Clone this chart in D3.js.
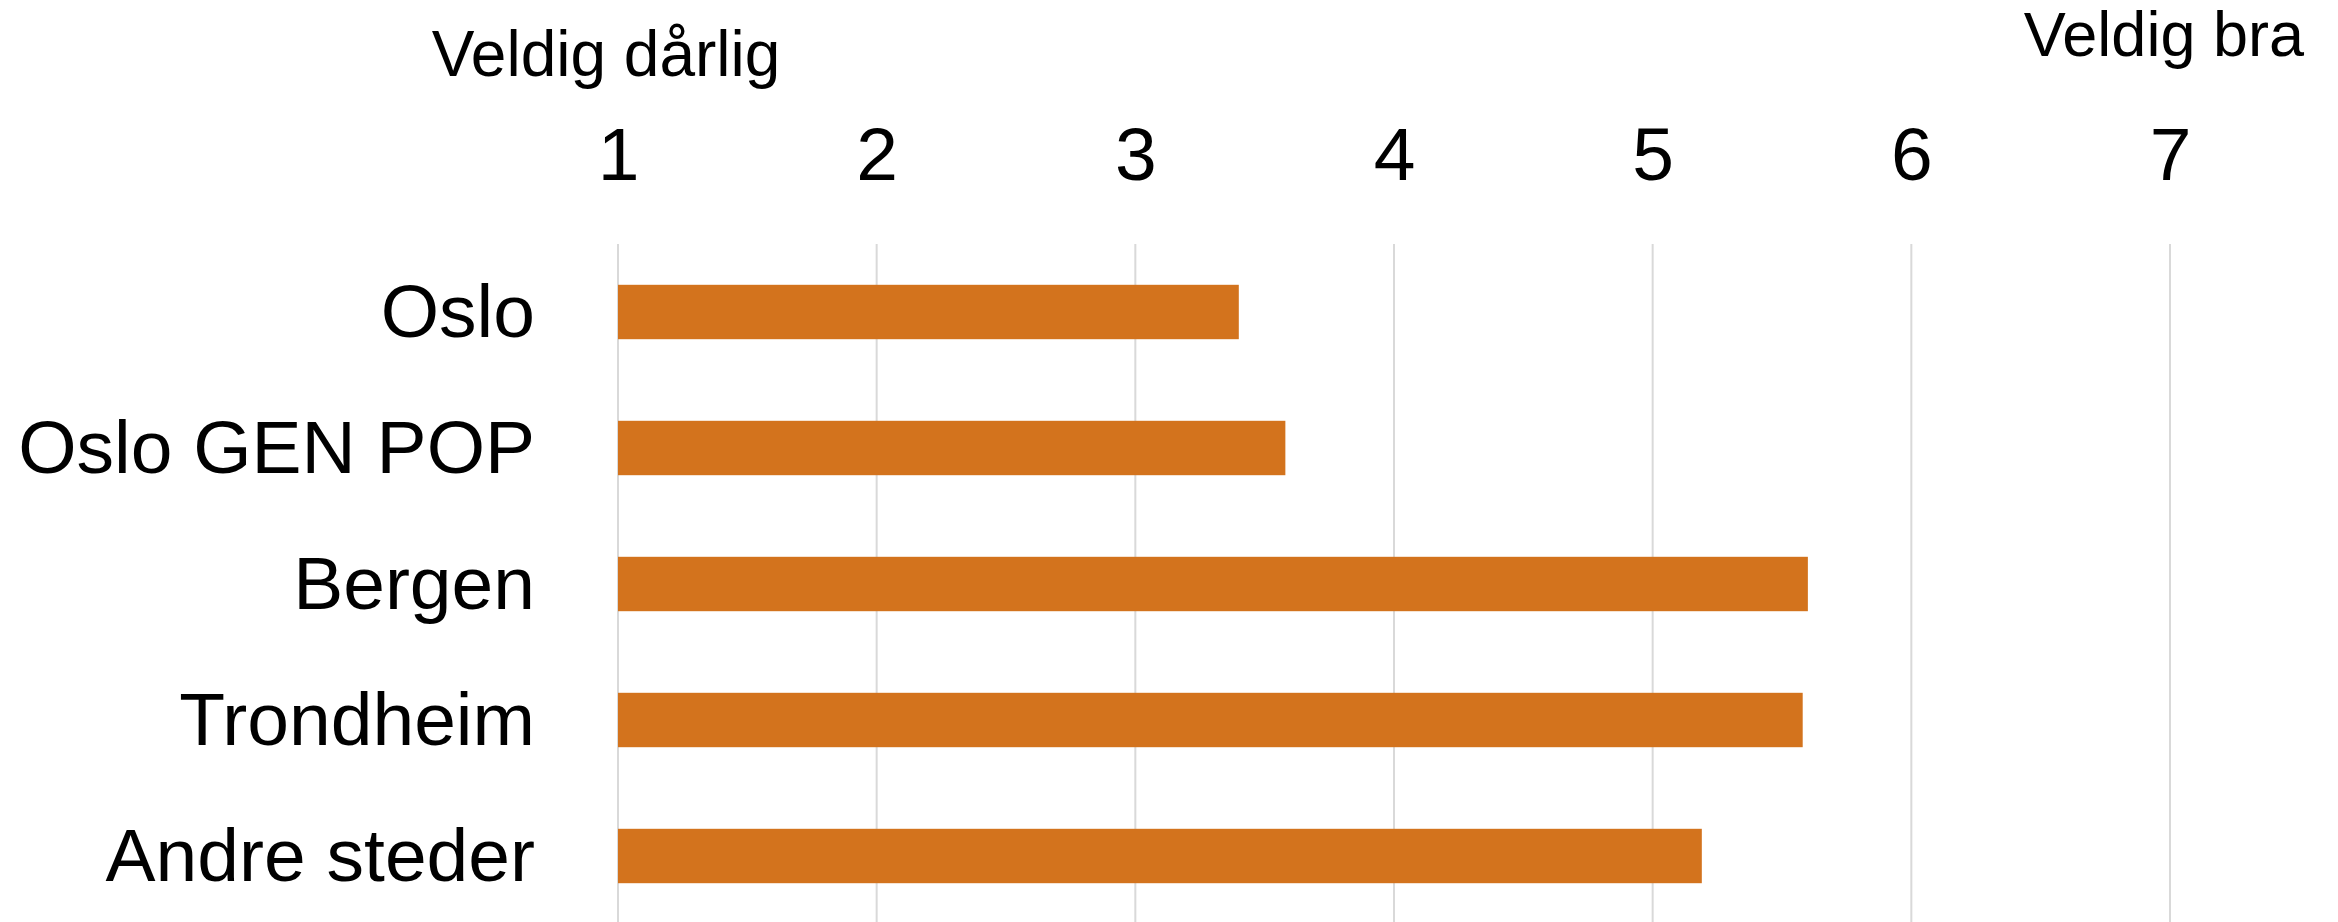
<!DOCTYPE html>
<html>
<head>
<meta charset="utf-8">
<script src="https://cdn.jsdelivr.net/npm/d3@7"></script>
<style>
  html, body { margin: 0; padding: 0; background: #fff; }
  svg { display: block; font-family: "Liberation Sans", Arial, sans-serif; }
</style>
</head>
<body>
<script>
const categories = ["Oslo", "Oslo GEN POP", "Bergen", "Trondheim", "Andre steder"];
const values = [3.4, 3.58, 5.6, 5.58, 5.19];
const tickValues = [1, 2, 3, 4, 5, 6, 7];
const lowLabel = "Veldig dårlig";
const highLabel = "Veldig bra";

const W = 2338, H = 922;
const svg = d3.select("body").append("svg").attr("width", W).attr("height", H);

const x = d3.scaleLinear().domain([1, 7]).range([618, 2170]);
const y = d3.scaleBand().domain(categories).range([244, 924]).paddingInner(0.6).paddingOuter(0.3);

// gridlines
svg.append("g").selectAll("line").data(tickValues).join("line")
  .attr("x1", d => x(d)).attr("x2", d => x(d))
  .attr("y1", 244).attr("y2", H)
  .attr("stroke", "#d9d9d9").attr("stroke-width", 2);

// top axis tick labels
const axis = d3.axisTop(x).tickValues(tickValues).tickSize(0).tickPadding(0).tickFormat(d3.format("d"));
const ag = svg.append("g").attr("transform", "translate(0,180)").call(axis);
ag.select(".domain").remove();
ag.selectAll("text").attr("font-size", 75).attr("fill", "#000").attr("dy", 0)
  .attr("font-family", '"Liberation Sans", Arial, sans-serif');

// end labels
svg.append("text").attr("x", 606).attr("y", 76).attr("text-anchor", "middle")
  .attr("font-size", 64).attr("fill", "#000").text(lowLabel);
svg.append("text").attr("x", 2304).attr("y", 56).attr("text-anchor", "end")
  .attr("font-size", 63).attr("fill", "#000").text(highLabel);

// bars
svg.append("g").selectAll("rect").data(categories).join("rect")
  .attr("x", x(1))
  .attr("y", d => y(d))
  .attr("width", (d, i) => x(values[i]) - x(1))
  .attr("height", y.bandwidth())
  .attr("fill", "#D3731D");

// category labels
const yAxis = d3.axisLeft(y).tickSize(0).tickPadding(0);
const yg = svg.append("g").attr("transform", "translate(535,0)").call(yAxis);
yg.select(".domain").remove();
yg.selectAll("text").attr("font-size", 75).attr("fill", "#000").attr("dy", "0.33em")
  .attr("font-family", '"Liberation Sans", Arial, sans-serif');
</script>
</body>
</html>
